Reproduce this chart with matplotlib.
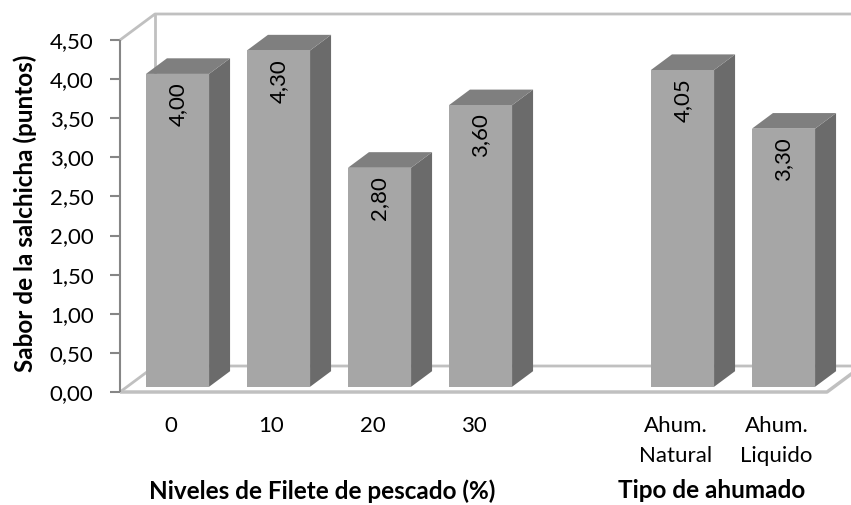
import matplotlib
matplotlib.use('Agg')
import matplotlib.pyplot as plt
from matplotlib.patches import Polygon

plt.rcParams['font.family'] = ['Lato', 'DejaVu Sans']

# datos ------------------------------------------------------------------
categorias = ['0', '10', '20', '30', '', 'Ahum.\nNatural', 'Ahum.\nLiquido']
valores = [4.00, 4.30, 2.80, 3.60, None, 4.05, 3.30]
yticks = [0, 0.5, 1, 1.5, 2, 2.5, 3, 3.5, 4, 4.5]

W, H = 851, 505
fig = plt.figure(figsize=(W / 100, H / 100), dpi=100)
ax = fig.add_axes([120 / W, 1 - 392 / H, 707 / W, 352 / H])
ax.set_xlim(-0.5, len(categorias) - 0.5)
ax.set_ylim(0, 4.5)
for s in ax.spines.values():
    s.set_visible(False)
ax.patch.set_visible(False)

# profundidad 3D (en pixeles) convertida a unidades de datos
px_x = ax.bbox.width / (ax.get_xlim()[1] - ax.get_xlim()[0])
px_y = ax.bbox.height / (ax.get_ylim()[1] - ax.get_ylim()[0])
DX = 35 / px_x
DY = 26 / px_y

x0, x1 = ax.get_xlim()
y0, y1 = ax.get_ylim()
wall = '#c0c0c0'

def line(xs, ys, **kw):
    ax.plot(xs, ys, clip_on=False, solid_capstyle='butt', **kw)

# paredes y piso
line([x0, x0 + DX, x1 + DX], [y1, y1 + DY, y1 + DY], color=wall, lw=2)
line([x0 + DX, x0 + DX], [y1 + DY, y0 + DY], color=wall, lw=2)
line([x0, x0 + DX, x1 + DX], [y0, y0 + DY, y0 + DY], color=wall, lw=2)
line([x0, x1, x1 + DX], [y0, y0, y0 + DY], color=wall, lw=2.5)

# barras 3D
bw = 0.625
d0, d1 = 0.2, 0.8
c_front, c_side, c_top = '#a6a6a6', '#6b6b6b', '#7f7f7f'
for i, v in enumerate(valores):
    if v is None:
        continue
    l, r = i - bw / 2, i + bw / 2
    ox0, oy0 = DX * d0, DY * d0
    ox1, oy1 = DX * d1, DY * d1
    front = [(l + ox0, oy0), (r + ox0, oy0), (r + ox0, v + oy0), (l + ox0, v + oy0)]
    side = [(r + ox0, oy0), (r + ox1, oy1), (r + ox1, v + oy1), (r + ox0, v + oy0)]
    top = [(l + ox0, v + oy0), (r + ox0, v + oy0), (r + ox1, v + oy1), (l + ox1, v + oy1)]
    ax.add_patch(Polygon(side, closed=True, fc=c_side, ec='none', clip_on=False, zorder=3))
    ax.add_patch(Polygon(top, closed=True, fc=c_top, ec='none', clip_on=False, zorder=3))
    ax.add_patch(Polygon(front, closed=True, fc=c_front, ec='none', clip_on=False, zorder=3))
    ax.annotate(f'{v:.2f}'.replace('.', ','), xy=(i + ox0, v + oy0), xytext=(0, -6),
                textcoords='offset points', rotation=90, ha='center', va='top',
                fontsize=16, zorder=4)

# eje y
line([x0, x0], [y0, y1], color='#868686', lw=1.5, zorder=5)
ax.set_yticks(yticks)
ax.set_yticklabels([f'{t:.2f}'.replace('.', ',') for t in yticks], fontsize=16)
ax.tick_params(axis='y', length=7, width=1.5, color='#868686', pad=12)

# eje x
ax.set_xticks(range(len(categorias)))
ax.set_xticklabels(categorias, fontsize=16, linespacing=1.65)
ax.tick_params(axis='x', length=0, pad=17)

fig.text(25 / W, 1 - 213 / H, 'Sabor de la salchicha (puntos)', fontsize=17.5,
         fontweight='bold', rotation=90, ha='center', va='center')
fig.text(322 / W, 1 - 491 / H, 'Niveles de Filete de pescado (%)', fontsize=17.5,
         fontweight='bold', ha='center', va='center')
fig.text(712 / W, 1 - 491 / H, 'Tipo de ahumado', fontsize=17.5,
         fontweight='bold', ha='center', va='center')

fig.savefig('out.png', dpi=100)
